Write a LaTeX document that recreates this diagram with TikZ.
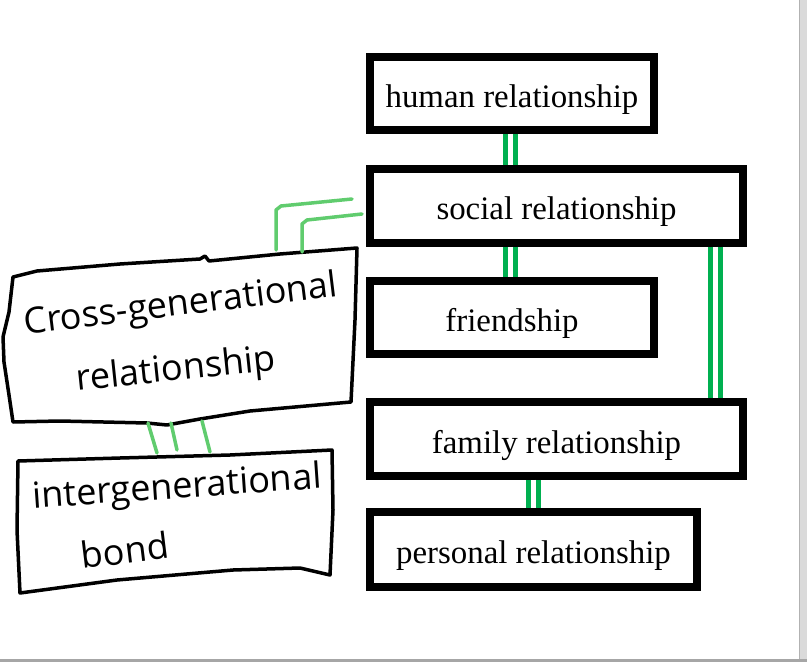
\documentclass[tikz,border=0pt]{standalone}
\usepackage{fontspec}
\setmainfont{Liberation Serif}
\newfontfamily\handfont{Open Sans}
\usepackage{tikz}
\definecolor{linkgreen}{RGB}{0,176,80}
\definecolor{handgreen}{RGB}{96,204,110}
\definecolor{framegray}{RGB}{218,218,218}
\tikzset{
  rbox/.style = {draw, line width = 0.16cm, inner sep = 0pt, text height = 0.56cm, text depth = 0pt,
    font = \fontsize{18.7}{22}\selectfont},
  link/.style = {draw = linkgreen, line width = 0.1cm, double = white, double distance = 0.095cm},
  hand/.style = {line width = 0.07cm, line join = round, line cap = round},
  handline/.style = {draw = handgreen, line width = 0.07cm, line join = round, line cap = round},
  handtext/.style = {inner sep = 0pt, font = \handfont\fontsize{20.5}{24}\selectfont}
}
\begin{document}
\begin{tikzpicture}[x = 0.02cm, y = -0.02cm]
\useasboundingbox (0, 0) rectangle (807, 662);
\fill[framegray] (799, 0) rectangle (807, 662);
\draw[gray!60, line width = 0.02cm] (799, 0) -- (799, 660);
\fill[gray!70] (0, 659) rectangle (807, 662);

\node[rbox, minimum width = 5.68cm, minimum height = 1.46cm] (human) at (512, 93.5) {human relationship};
\node[rbox, minimum width = 7.46cm, minimum height = 1.48cm] (social) at (556.5, 206) {social relationship};
\node[rbox, minimum width = 5.68cm, minimum height = 1.46cm] (friendship) at (512, 317.5) {friendship};
\node[rbox, minimum width = 7.46cm, minimum height = 1.48cm] (family) at (556.5, 439) {family relationship};
\node[rbox, minimum width = 6.54cm, minimum height = 1.5cm] (personal) at (533.5, 549.5) {personal relationship};

\draw[link] ([xshift = -0.03cm]human.south) -- ([xshift = -0.03cm]human.south |- social.north);
\draw[link] ([xshift = -0.03cm]social.south -| friendship.north) -- ([xshift = -0.03cm]friendship.north);
\draw[link] ([xshift = -0.63cm]social.south east) -- ([xshift = -0.63cm]family.north east);
\draw[link] (personal.north |- family.south) -- (personal.north);

\draw[hand] (13, 277) -- (37, 271) -- (120, 264) -- (200, 259) -- (205, 256) -- (209, 261)
  -- (280, 254) -- (357, 248) -- (355, 320) -- (351, 402) -- (250, 411) -- (200, 419)
  -- (167, 425) -- (147, 423) -- (60, 421) -- (13, 422) -- (9, 395) -- (4, 362)
  -- (3, 337) -- (9, 312) -- cycle;
\draw[hand] (18, 461) -- (120, 458) -- (230, 455) -- (332, 450) -- (333, 510) -- (330, 575)
  -- (300, 568) -- (233, 570) -- (117, 580) -- (20, 593) -- (17, 530) -- cycle;

\node[handtext, rotate = 7] (cross1) at (181, 306) {Cross-generational};
\node[handtext, rotate = 6] (cross2) at (176, 371) {relationship};
\node[handtext, rotate = 4] (inter) at (177, 489) {intergenerational};
\node[handtext, rotate = 7] (bond) at (125, 550) {bond};

\coordinate (c1) at (276, 250);
\coordinate (c2) at (302, 252);
\draw[handline] (c1) -- (276, 210) -- (281, 206) -- ([xshift = -0.28cm, yshift = 0.14cm]social.west);
\draw[handline] (c2) -- (302, 224) -- (307, 220) -- ([xshift = -0.08cm, yshift = -0.16cm]social.west);
\draw[handline] (148, 423) -- (157, 453);
\draw[handline] (171, 423) -- (177, 450);
\draw[handline] (202, 421) -- (210, 452);
\end{tikzpicture}
\end{document}
